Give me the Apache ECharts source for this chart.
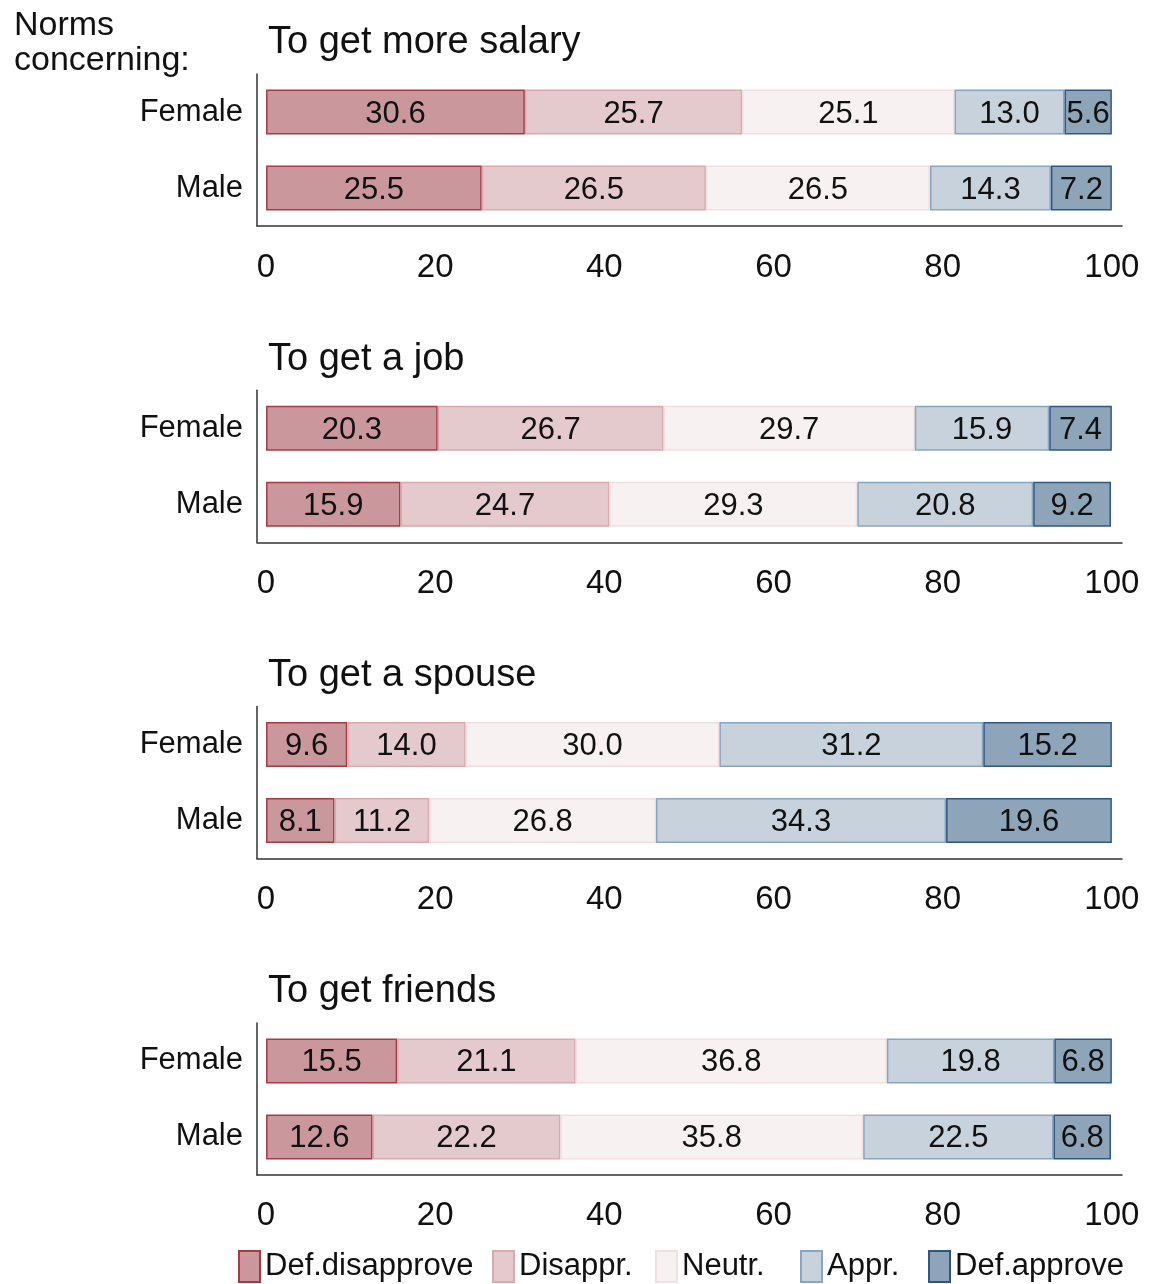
<!DOCTYPE html>
<html>
<head>
<meta charset="utf-8">
<script src="https://cdn.jsdelivr.net/npm/echarts@6/dist/echarts.min.js"></script>
<style>
html,body{margin:0;padding:0;background:#fff;}
#chart{width:1151px;height:1284px;}
</style>
</head>
<body>
<div id="chart"></div>
<script>
const panelTitles = ["To get more salary", "To get a job", "To get a spouse", "To get friends"];
const groups = ["Female", "Male"];
const categories = ["Def.disapprove", "Disappr.", "Neutr.", "Appr.", "Def.approve"];
const tickValues = [0, 20, 40, 60, 80, 100];

// values per panel: [Female, Male] per category
const salaryFemale = [30.6, 25.7, 25.1, 13.0, 5.6];
const salaryMale   = [25.5, 26.5, 26.5, 14.3, 7.2];
const jobFemale    = [20.3, 26.7, 29.7, 15.9, 7.4];
const jobMale      = [15.9, 24.7, 29.3, 20.8, 9.2];
const spouseFemale = [9.6, 14.0, 30.0, 31.2, 15.2];
const spouseMale   = [8.1, 11.2, 26.8, 34.3, 19.6];
const friendsFemale = [15.5, 21.1, 36.8, 19.8, 6.8];
const friendsMale   = [12.6, 22.2, 35.8, 22.5, 6.8];

const panels = [
  [salaryFemale, salaryMale],
  [jobFemale, jobMale],
  [spouseFemale, spouseMale],
  [friendsFemale, friendsMale]
];

const fills   = ["#c9979c", "#e4cacd", "#f7f1f1", "#c7d2dd", "#8ea4b8"];
const borders = ["#a63a46", "#d9a9ae", "#f0e0e1", "#8aa5c0", "#2f5784"];

const FONT = "Liberation Sans, Arial, sans-serif";
const panelStep = 316.3;
const gridTop0 = 74;
const gridH = 152;

const grids = [], xAxes = [], yAxes = [], series = [], titles = [];
titles.push({
  text: "Norms\nconcerning:",
  left: 9, top: 3,
  textStyle: {fontFamily: FONT, fontSize: 34, fontWeight: "normal", color: "#111", lineHeight: 35}
});
panels.forEach((p, i) => {
  const top = gridTop0 + panelStep * i;
  grids.push({left: 257, right: 29, top: top, height: gridH});
  titles.push({
    text: panelTitles[i],
    left: 263, top: top - 55,
    textStyle: {fontFamily: FONT, fontSize: 38, fontWeight: "normal", color: "#111"}
  });
  xAxes.push({
    gridIndex: i, type: "value", min: -1.07, max: 101.2,
    axisLine: {show: true, onZero: false, lineStyle: {color: "#333", width: 1.5}},
    axisTick: {show: false},
    splitLine: {show: false},
    axisLabel: {customValues: tickValues, fontFamily: FONT, fontSize: 33, color: "#111", margin: 25}
  });
  yAxes.push({
    gridIndex: i, type: "category", data: groups, inverse: true,
    axisLine: {show: true, onZero: false, lineStyle: {color: "#333", width: 1.5}},
    axisTick: {show: false},
    axisLabel: {fontFamily: FONT, fontSize: 31, color: "#111", margin: 14, padding: [5, 0, 0, 0]}
  });
  categories.forEach((c, k) => {
    series.push({
      name: c, type: "bar", stack: "s" + i,
      xAxisIndex: i, yAxisIndex: i,
      barWidth: 45,
      data: [p[0][k], p[1][k]],
      itemStyle: {color: fills[k], borderColor: borders[k], borderWidth: 1.5},
      label: {
        show: true, position: "inside", offset: [0, 2],
        formatter: (d) => d.value.toFixed(1),
        fontFamily: FONT, fontSize: 31, color: "#111"
      },
      emphasis: {disabled: true},
      animation: false
    });
  });
});

const legendX = [238, 492, 655, 800, 928];
const legends = categories.map((c, k) => ({
  data: [c], left: legendX[k], top: 1250, padding: 0,
  itemWidth: 21, itemHeight: 31, itemGap: 0,
  icon: "rect",
  textStyle: {fontFamily: FONT, fontSize: 31, color: "#111", padding: [5, 0, 0, 0]},
  selectedMode: false
}));

const chart = echarts.init(document.getElementById("chart"), null, {renderer: "canvas"});
chart.setOption({
  backgroundColor: "#fff",
  animation: false,
  title: titles,
  legend: legends,
  grid: grids,
  xAxis: xAxes,
  yAxis: yAxes,
  series: series
});
</script>
</body>
</html>
